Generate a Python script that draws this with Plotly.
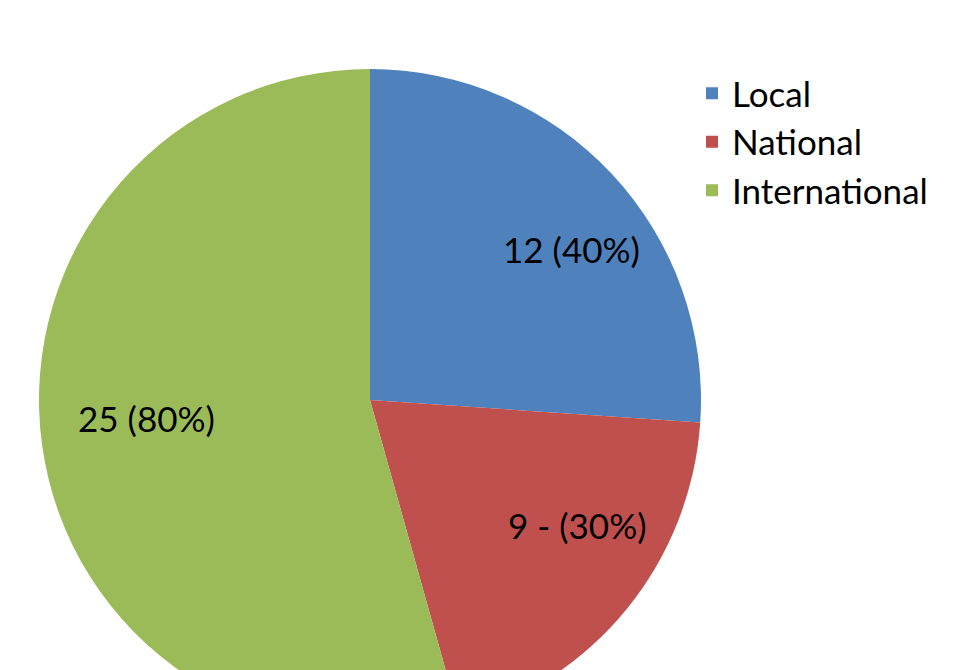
import plotly.graph_objects as go

categories = ["Local", "National", "International"]
values = [12, 9, 25]
slice_labels = ["12 (40%)", "9 - (30%)", "25 (80%)"]
colors = ["#4F81BD", "#C0504D", "#9BBB59"]

# label anchor positions in pixels (x from left, y from top)
label_pos_px = [(571, 249), (577, 525), (146, 418)]

W, H = 980, 740
fig = go.Figure(go.Pie(
    labels=categories,
    values=values,
    textinfo="none",
    marker=dict(colors=colors, line=dict(width=0)),
    sort=False,
    direction="clockwise",
    rotation=0,
    hoverinfo="label+value",
    domain=dict(x=[39 / W, 701 / W], y=[(H - 731) / H, (H - 69) / H]),
))

for txt, (px, py) in zip(slice_labels, label_pos_px):
    fig.add_annotation(
        x=px / W, y=(H - py) / H, xref="paper", yref="paper",
        text=txt, showarrow=False, xanchor="center", yanchor="middle",
        font=dict(family="Lato", size=35, color="black"),
    )

fig.update_layout(
    width=W,
    height=H,
    margin=dict(l=0, r=0, t=0, b=0),
    paper_bgcolor="white",
    plot_bgcolor="white",
    font=dict(family="Lato", size=35, color="black"),
    legend=dict(
        x=692 / W, y=(H - 64) / H, xanchor="left", yanchor="top",
        font=dict(family="Lato", size=35, color="black"),
        tracegroupgap=0,
        bgcolor="rgba(0,0,0,0)",
    ),
    showlegend=True,
)

fig.write_html(
    "out.html",
    config={"displayModeBar": False},
    post_script="document.body.style.margin='0';document.body.style.overflow='hidden';document.documentElement.style.overflow='hidden';",
)
